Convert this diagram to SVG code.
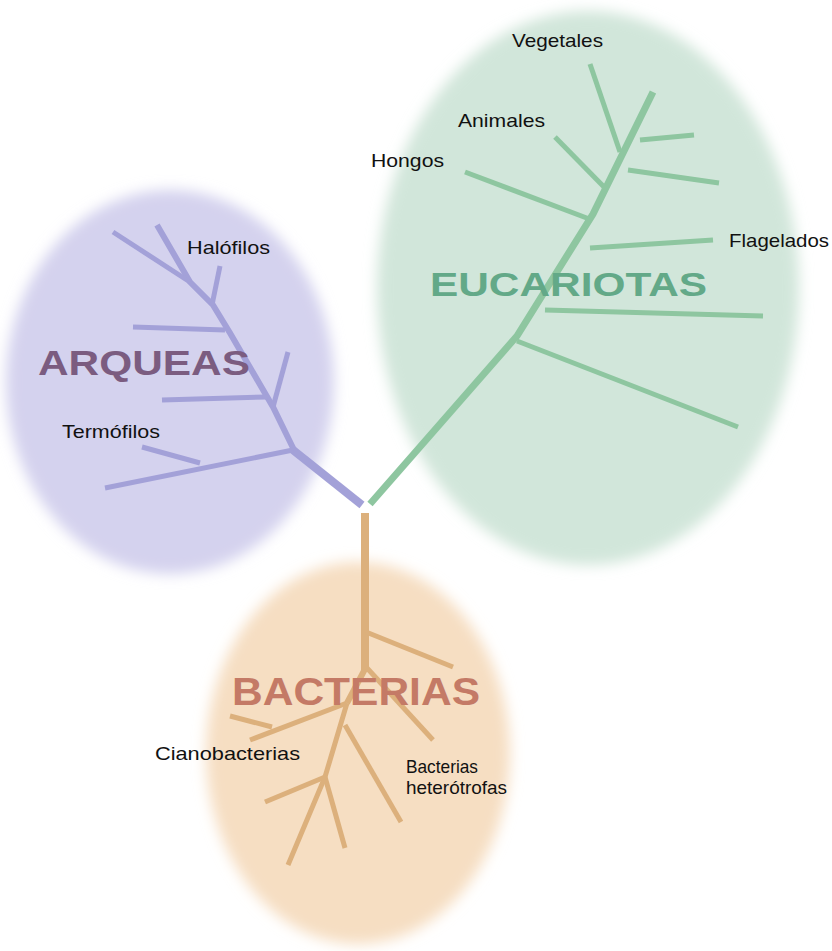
<svg xmlns="http://www.w3.org/2000/svg" width="832" height="951" viewBox="0 0 832 951">
<defs>
<filter id="soft" x="-20%" y="-20%" width="140%" height="140%"><feGaussianBlur stdDeviation="7"/></filter>
</defs>
<style>
.lbl{font-family:"Liberation Sans",Arial,sans-serif;font-size:18.5px;fill:#111}
.big{font-family:"Liberation Sans",Arial,sans-serif;font-weight:bold}
.ar{stroke:#a3a1d8;fill:none;stroke-linecap:butt}
.eu{stroke:#8ec6a0;fill:none;stroke-linecap:butt}
.ba{stroke:#dcb07c;fill:none;stroke-linecap:butt}
</style>
<rect width="832" height="951" fill="#ffffff"/>
<g id="arqueas">
<ellipse cx="170" cy="382" rx="164" ry="192" fill="#d4d2ee" filter="url(#soft)"/>
</g>
<g id="eucariotas">
<ellipse cx="588" cy="288" rx="211" ry="277" fill="#d1e6da" filter="url(#soft)"/>
</g>
<g id="bacterias">
<ellipse cx="358" cy="753" rx="152" ry="191" fill="#f6dec2" filter="url(#soft)"/>
</g>
<g id="connectors">
<path class="ar" stroke="#8886c8" stroke-width="8" d="M362,505 L293,450"/>
<path class="ar" stroke-width="6" d="M295,452 L273,407 L230,333 L213,305 L190,282 L157,225"/>
<path class="ar" stroke-width="5" d="M113,232 L190,282"/>
<path class="ar" stroke-width="5" d="M212,305 L220,266"/>
<path class="ar" stroke-width="5" d="M133,327 L225,330"/>
<path class="ar" stroke-width="5" d="M288,352 L273,407"/>
<path class="ar" stroke-width="5" d="M162,400 L267,397"/>
<path class="ar" stroke-width="5" d="M293,450 L105,488"/>
<path class="ar" stroke-width="5" d="M142,447 L200,463"/>
<path class="eu" stroke-width="7" d="M370,504 L517,336 L593,214 L653,92"/>
<path class="eu" stroke-width="5" d="M590,64 L620,152"/>
<path class="eu" stroke-width="5" d="M640,140 L694,135"/>
<path class="eu" stroke-width="5" d="M555,137 L605,188"/>
<path class="eu" stroke-width="5" d="M628,170 L719,183"/>
<path class="eu" stroke-width="5" d="M465,172 L592,220"/>
<path class="eu" stroke-width="5" d="M590,248 L713,240"/>
<path class="eu" stroke-width="5" d="M545,310 L763,316"/>
<path class="eu" stroke-width="5" d="M517,341 L738,427"/>
<path class="ba" stroke="#cf9f6d" stroke-width="8" d="M365,513 L365,670"/>
<path class="ba" stroke-width="6" d="M365,669 L347,703"/>
<path class="ba" stroke-width="5" d="M366,632 L453,667"/>
<path class="ba" stroke-width="5" d="M367,668 L433,740"/>
<path class="ba" stroke-width="5" d="M347,703 L250,740"/>
<path class="ba" stroke-width="5" d="M272,727 L230,716"/>
<path class="ba" stroke-width="5" d="M347,703 L325,777 L288,865"/>
<path class="ba" stroke-width="5" d="M345,725 L401,822"/>
<path class="ba" stroke-width="5" d="M325,777 L265,802"/>
<path class="ba" stroke-width="5" d="M325,777 L345,848"/>
</g>
<g id="titles">
<text class="big" x="38" y="375" font-size="35" fill="#7b5c80" textLength="212" lengthAdjust="spacingAndGlyphs">ARQUEAS</text>
<text class="big" x="430" y="296" font-size="33" fill="#63a988" textLength="277" lengthAdjust="spacingAndGlyphs">EUCARIOTAS</text>
<text class="big" x="232" y="705" font-size="38" fill="#c47a66" textLength="248" lengthAdjust="spacingAndGlyphs">BACTERIAS</text>
</g>
<g id="labels">
<text class="lbl" x="512" y="47" textLength="91" lengthAdjust="spacingAndGlyphs">Vegetales</text>
<text class="lbl" x="458" y="127" textLength="87" lengthAdjust="spacingAndGlyphs">Animales</text>
<text class="lbl" x="371" y="167" textLength="73" lengthAdjust="spacingAndGlyphs">Hongos</text>
<text class="lbl" x="729" y="247" textLength="100" lengthAdjust="spacingAndGlyphs">Flagelados</text>
<text class="lbl" x="187" y="254" textLength="83" lengthAdjust="spacingAndGlyphs">Halófilos</text>
<text class="lbl" x="62" y="438" textLength="98" lengthAdjust="spacingAndGlyphs">Termófilos</text>
<text class="lbl" x="155" y="760" textLength="145" lengthAdjust="spacingAndGlyphs">Cianobacterias</text>
<text class="lbl" x="406" y="773" textLength="72" lengthAdjust="spacingAndGlyphs">Bacterias</text>
<text class="lbl" x="406" y="794" textLength="101" lengthAdjust="spacingAndGlyphs">heterótrofas</text>
</g>
</svg>
